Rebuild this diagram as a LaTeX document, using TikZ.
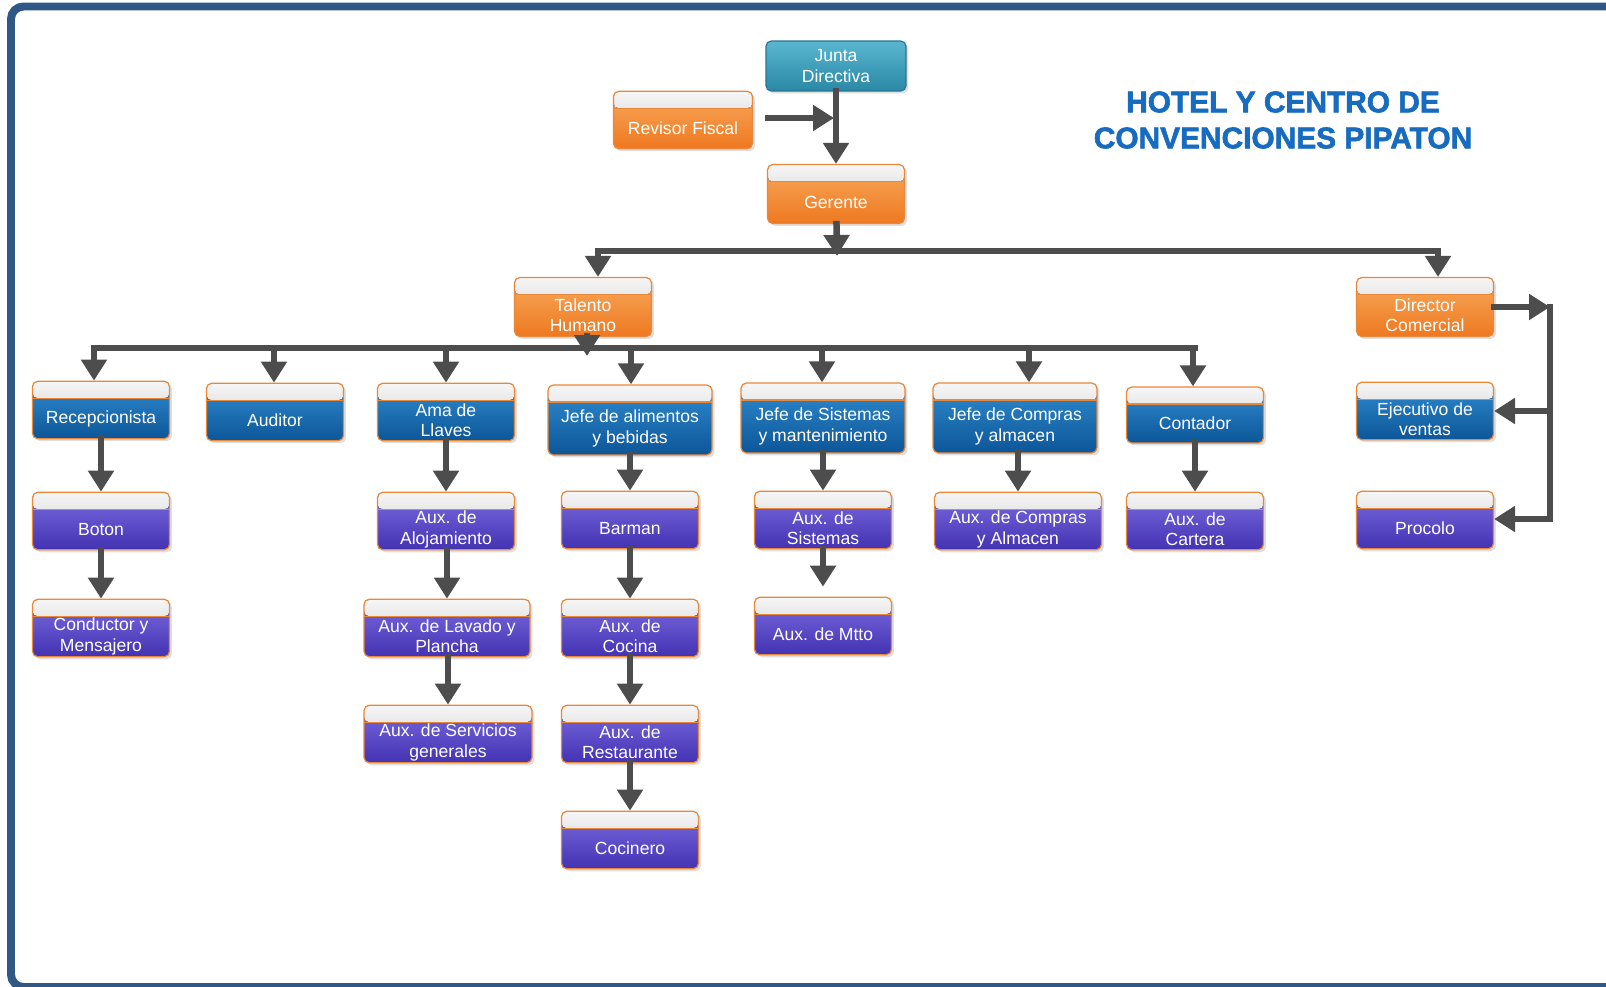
\documentclass[tikz,border=0pt]{standalone}
\usepackage{fontspec}
\setsansfont{Liberation Sans}
\newfontfamily\titlefont{Liberation Sans}[BoldFeatures={FakeBold=2}]
\usetikzlibrary{arrows.meta,shadows}

\definecolor{borde}{RGB}{232,136,58}
\definecolor{banda1}{RGB}{246,246,246}
\definecolor{banda2}{RGB}{200,200,200}
\definecolor{azul1}{RGB}{48,140,208}
\definecolor{azul2}{RGB}{12,86,152}
\definecolor{morado1}{RGB}{122,108,224}
\definecolor{morado2}{RGB}{68,50,178}
\definecolor{naranja1}{RGB}{248,170,92}
\definecolor{naranja2}{RGB}{238,120,32}
\definecolor{teal1}{RGB}{90,182,208}
\definecolor{teal2}{RGB}{42,136,166}
\definecolor{teal3}{RGB}{38,118,148}
\definecolor{gris}{RGB}{77,77,77}
\definecolor{marco}{RGB}{47,88,135}
\definecolor{titulo}{RGB}{24,108,192}

\newbox\lowbox

\begin{document}
\begin{tikzpicture}[x=0.02cm, y=-0.02cm, >={Triangle[length=0.42cm,width=0.5cm]},
	every node/.style={inner sep=1pt},
	cargo/.style={draw=borde, line width=0.7pt, rounded corners=3pt, minimum width=2.74cm, minimum height=1.15cm,
		text=white, align=center, font=\sffamily\fontsize{10}{11.5}\selectfont,
		drop shadow={opacity=0.25, shadow xshift=0.05cm, shadow yshift=-0.05cm},
		execute at begin node={\setbox\lowbox=\hbox\bgroup},
		execute at end node={\egroup\ht\lowbox=\dimexpr\ht\lowbox+0.34cm\relax\box\lowbox},
		path picture={
			\fill[top color=banda1, bottom color=banda2] (path picture bounding box.north west) rectangle ([yshift=-0.34cm]path picture bounding box.north east);
			\draw[borde, line width=0.7pt] ([yshift=-0.34cm]path picture bounding box.north west) -- ([yshift=-0.34cm]path picture bounding box.north east);
		}},
	azul/.style={cargo, top color=azul1, bottom color=azul2},
	morado/.style={cargo, top color=morado1, bottom color=morado2},
	naranja/.style={cargo, top color=naranja1, bottom color=naranja2},
	junta/.style={draw=teal3, line width=0.7pt, rounded corners=3pt, minimum width=2.8cm, minimum height=1.0cm,
		top color=teal1, bottom color=teal2, text=white, align=center, font=\sffamily\fontsize{10}{11.5}\selectfont,
		drop shadow={opacity=0.25, shadow xshift=0.05cm, shadow yshift=-0.05cm}},
	jefe/.style={minimum width=3.28cm, minimum height=1.4cm},
	flecha/.style={->, draw=gris, line width=0.13cm, line cap=rect},
	linea/.style={draw=gris, line width=0.13cm, line cap=rect}]

	\fill[white] (0,0) rectangle (1606,987);
	\useasboundingbox (0,0) rectangle (1606,987);
	\draw[marco, line width=0.16cm, rounded corners=0.25cm] (11,6.5) rectangle (1640,987);

	% Direccion
	\node[junta] (junta) at (836,66) {Junta\\Directiva};
	\node[naranja, minimum width=2.78cm] (rev) at (683,120) {Revisor Fiscal};
	\node[naranja, minimum height=1.18cm] (ger) at (836,194) {Gerente};
	\node[naranja, minimum height=1.18cm] (tal) at (583,307) {Talento\\Humano};
	\node[naranja, minimum height=1.18cm] (dir) at (1425,307) {Director\\Comercial};
	\node[azul] (ejec) at (1425,411) {Ejecutivo de\\ventas};
	\node[morado] (proc) at (1425,520) {Procolo};

	\node[text=titulo, align=center, font=\titlefont\bfseries\fontsize{17}{20.5}\selectfont] (titulo) at (1283,120) {HOTEL Y CENTRO DE\\CONVENCIONES PIPATON};

	% Jefaturas
	\node[azul] (recep) at (101,410) {Recepcionista};
	\node[azul] (aud) at (275,412) {Auditor};
	\node[azul] (ama) at (446,412) {Ama de\\Llaves};
	\node[azul, jefe] (jalim) at (630,420) {Jefe de alimentos\\y bebidas};
	\node[azul, jefe] (jsis) at (823,418) {Jefe de Sistemas\\y mantenimiento};
	\node[azul, jefe] (jcomp) at (1015,418) {Jefe de Compras\\y almacen};
	\node[azul, minimum height=1.12cm] (cont) at (1195,415) {Contador};

	% Auxiliares
	\node[morado] (boton) at (101,521) {Boton};
	\node[morado] (aloj) at (446,521) {Aux. de\\Alojamiento};
	\node[morado] (barman) at (630,520) {Barman};
	\node[morado] (asis) at (823,520) {Aux. de\\Sistemas};
	\node[morado, minimum width=3.34cm] (acomp) at (1018,521) {Aux. de Compras\\y Almacen};
	\node[morado] (cart) at (1195,521) {Aux. de\\Cartera};
	\node[morado] (cond) at (101,628) {Conductor y\\Mensajero};
	\node[morado, minimum width=3.32cm] (lav) at (447,628) {Aux. de Lavado y\\Plancha};
	\node[morado] (cocina) at (630,628) {Aux. de\\Cocina};
	\node[morado] (mtto) at (823,626) {Aux. de Mtto};
	\node[morado, minimum width=3.36cm] (serv) at (448,734) {Aux. de Servicios\\generales};
	\node[morado] (rest) at (630,734) {Aux. de\\Restaurante};
	\node[morado] (cocinero) at (630,840) {Cocinero};

	% Conectores superiores
	\coordinate (rv) at (834,118);
	\coordinate (gbus) at (837,256);
	\coordinate (bL) at (598,251);
	\coordinate (bR) at (1438,251);
	\draw[flecha] (junta) -- (ger);
	\draw[flecha] ([xshift=0.3cm]rev.east |- rv) -- (rv);
	\draw[flecha] (ger) -- (gbus);
	\draw[flecha, <->] (tal.north -| bL) -- (bL) -- (bR) -- (bR |- dir.north);

	% Talento Humano
	\coordinate (tbus) at (587,356);
	\coordinate (hL) at (94,348);
	\coordinate (hR) at (1195,348);
	\draw[linea] (hL) -- (hR);
	\draw[flecha] (tal.south -| tbus) -- (tbus);
	\foreach \n/\s in {recep/-7, aud/-1, ama/0, jalim/1, jsis/-1, jcomp/14, cont/-2}
		\draw[flecha] ([xshift=\s*0.02cm]\n.north |- hL) -- ([xshift=\s*0.02cm]\n.north);

	\foreach \a/\b in {recep/boton, boton/cond, ama/aloj, aloj/lav, lav/serv, jalim/barman, barman/cocina,
		cocina/rest, rest/cocinero, jsis/asis, jcomp/acomp, cont/cart}
		\draw[flecha] (\b.north |- \a.south) -- (\b.north);
	\draw[flecha, shorten >=0.2cm] (mtto.north |- asis.south) -- (mtto.north);

	% Director Comercial
	\coordinate (vt) at (1550,307);
	\coordinate (vb) at (1550,519);
	\draw[flecha] (dir) -- (vt);
	\draw[linea] (vt) -- (vb);
	\draw[flecha] (vt |- ejec) -- (ejec);
	\draw[flecha] (vb) -- (vb -| proc.east);
\end{tikzpicture}
\end{document}
